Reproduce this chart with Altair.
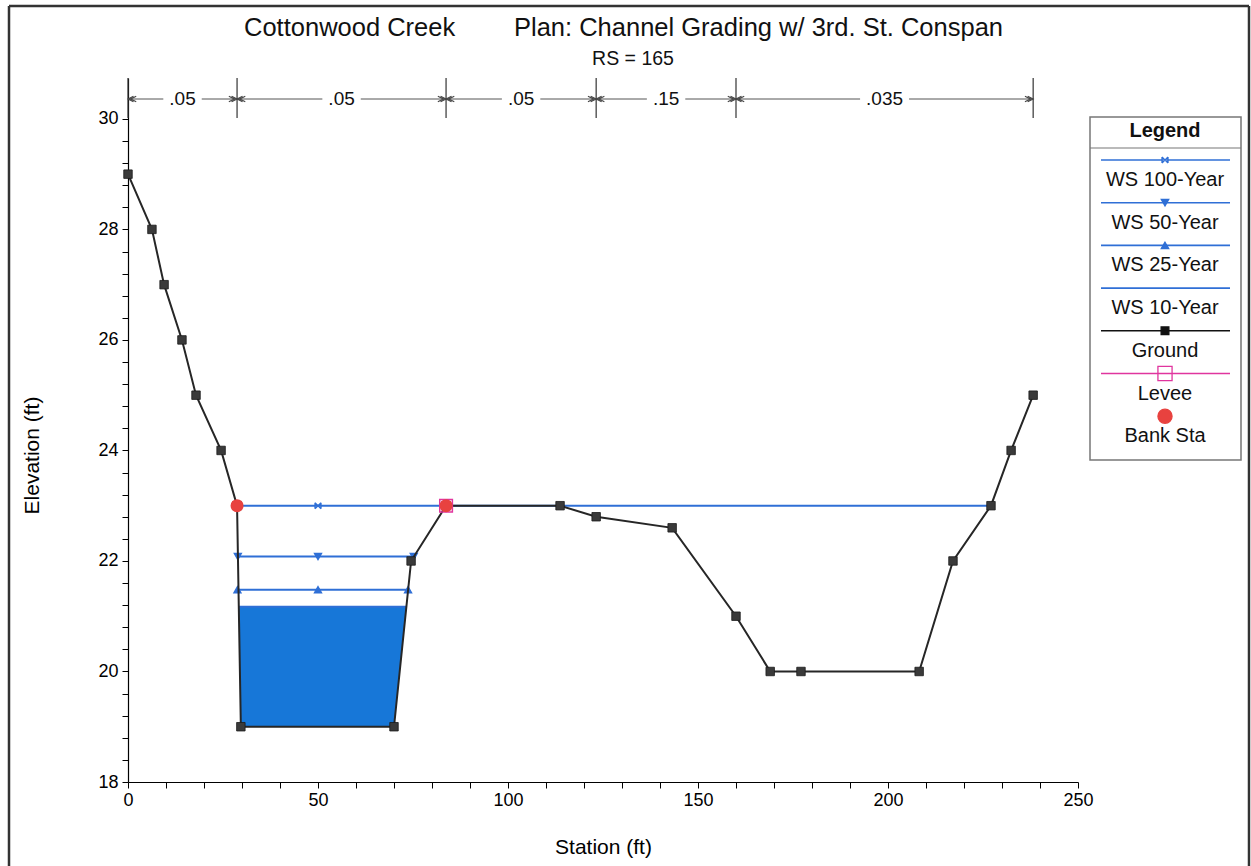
import altair as alt
import pandas as pd

# ---------------- data ----------------
ground_sta = [0.0, 6.3, 9.5, 14.2, 17.9, 24.5, 28.7, 29.7, 70.0, 74.5, 83.7,
              113.7, 123.2, 143.2, 160.0, 169.0, 177.1, 208.2, 217.1, 227.1, 232.4, 238.2]
ground_elev = [29.0, 28.0, 27.0, 26.0, 25.0, 24.0, 23.0, 19.0, 19.0, 22.0, 23.0,
               23.0, 22.8, 22.6, 21.0, 20.0, 20.0, 20.0, 22.0, 23.0, 24.0, 25.0]

bank_sta = [28.7, 83.7]
bank_elev = [23.0, 23.0]
levee_sta = [83.7]
levee_elev = [23.0]

ws_names = ["WS 100-Year", "WS 50-Year", "WS 25-Year", "WS 10-Year"]
ws_elev = [23.0, 22.08, 21.48, 21.17]
ws_left = [28.7, 28.9, 28.8, 29.2]
ws_right = [227.1, 75.2, 73.7, 73.3]
ws_mid_marker = [50.0, 50.0, 50.0, None]

# filled lowest profile (WS 10-Year) polygon, by elevation
fill_elev = [19.0, 21.17]
fill_left = [29.7, 29.2]
fill_right = [70.0, 73.3]

n_breaks = [0.0, 28.7, 83.7, 123.2, 160.0, 238.2]
n_values = [".05", ".05", ".05", ".15", ".035"]

x_ticks = list(range(0, 251, 10))
y_ticks = [round(18 + 0.4 * i, 1) for i in range(31)]

title_left = "Cottonwood Creek"
title_right = "Plan: Channel Grading w/ 3rd. St. Conspan"
subtitle = "RS = 165"
legend_title = "Legend"
legend_labels = ws_names + ["Ground", "Levee", "Bank Sta"]

# ---------------- style / layout ----------------
FONT = "Liberation Sans"
PL, PT, W, H = 128, 78, 950, 704
PR, PB = 1251 - PL - W, 866 - PT - H
WS_BLUE = "#2F6FD6"
FILL = "#1777D8"
GROUND = "#262626"
LEVEE = "#E0359E"
BANK = "#E8423F"
XPATH = "M-1,-1L1,1M-1,1L1,-1M-1,-1L-1,1M1,-1L1,1"
PX_PER_FT = W / 250.0


def rx(px):
    return px - PL


def ry(py):
    return py - PT


def one(**kw):
    return pd.DataFrame({k: [v] for k, v in kw.items()} or {"d": [0]})


xs = alt.Scale(domain=[0, 250], nice=False, zero=False)
ys = alt.Scale(domain=[18, 30.74], nice=False, zero=False)

x_axis = alt.Axis(values=x_ticks, title="Station (ft)",
                  labelExpr="datum.value % 50 === 0 ? format(datum.value, 'd') : ''",
                  labelOverlap=False, labelFlush=False, grid=False,
                  tickSize=6, labelPadding=3,
                  titleX=W / 2, titleY=65, titleBaseline="middle")
y_axis = alt.Axis(values=y_ticks, title="Elevation (ft)",
                  labelExpr="datum.value % 2 === 0 ? format(datum.value, 'd') : ''",
                  labelOverlap=False, labelFlush=False, grid=False,
                  tickSize=6, labelPadding=4,
                  titleX=-96, titleY=377, titleAngle=270, titleBaseline="middle",
                  titleAlign="center")

X = alt.X("sta:Q", scale=xs, axis=x_axis)
Y = alt.Y("elev:Q", scale=ys, axis=y_axis)

layers = []

# water fill for WS 10-Year
fill_df = pd.DataFrame({"elev": fill_elev, "sta": fill_left, "sta2": fill_right})
layers.append(alt.Chart(fill_df).mark_area(orient="horizontal", color=FILL, opacity=1)
              .encode(y=Y, x=X, x2="sta2:Q"))

# water surface lines
ws_rows = []
mk_rows = []
for name, e, l, r, m in zip(ws_names, ws_elev, ws_left, ws_right, ws_mid_marker):
    ws_rows += [{"profile": name, "sta": l, "elev": e}, {"profile": name, "sta": r, "elev": e}]
    if m is not None:
        for s in (l, m, r):
            mk_rows.append({"profile": name, "sta": s, "elev": e})
ws_df = pd.DataFrame(ws_rows)
mk_df = pd.DataFrame(mk_rows)
layers.append(alt.Chart(ws_df).mark_line(color=WS_BLUE, strokeWidth=2)
              .encode(x=X, y=Y, detail="profile:N"))
shapes = {"WS 100-Year": XPATH, "WS 50-Year": "triangle-down", "WS 25-Year": "triangle-up"}
for name, shp in shapes.items():
    d = mk_df[mk_df.profile == name]
    layers.append(alt.Chart(d).mark_point(shape=shp, filled=True, color=WS_BLUE, stroke=WS_BLUE,
                                          strokeWidth=1.3, size=50 if shp != XPATH else 36, opacity=1)
                  .encode(x=X, y=Y))

# ground
g_df = pd.DataFrame({"sta": ground_sta, "elev": ground_elev, "i": range(len(ground_sta))})
layers.append(alt.Chart(g_df).mark_line(color=GROUND, strokeWidth=2)
              .encode(x=X, y=Y, order="i:Q"))
layers.append(alt.Chart(g_df).mark_point(shape="square", filled=True, color="#3a3a3a",
                                         stroke="#1a1a1a", strokeWidth=0.8, size=72, opacity=1)
              .encode(x=X, y=Y))

# levee and bank stations
lv_df = pd.DataFrame({"sta": levee_sta, "elev": levee_elev})
layers.append(alt.Chart(lv_df).mark_point(shape="square", filled=False, color=LEVEE,
                                          strokeWidth=1.5, size=160, opacity=1)
              .encode(x=X, y=Y))
bk_df = pd.DataFrame({"sta": bank_sta, "elev": bank_elev})
layers.append(alt.Chart(bk_df).mark_point(shape="circle", filled=True, color=BANK,
                                          size=170, opacity=1)
              .encode(x=X, y=Y))

# Manning's n annotation across the top
nb_df = pd.DataFrame({"sta": n_breaks})
layers.append(alt.Chart(nb_df).mark_rule(color="#333", strokeWidth=1.2)
              .encode(x=X, y=alt.value(0), y2=alt.value(40)))
seg_rows, lab_rows = [], []
for a, b, lab in zip(n_breaks[:-1], n_breaks[1:], n_values):
    mid = (a + b) / 2
    gap_px = 6 + (0.278 + 0.556 * (len(lab) - 1)) * 19 / 2
    gap = gap_px / PX_PER_FT
    seg_rows += [{"sta": a, "sta2": mid - gap}, {"sta": mid + gap, "sta2": b}]
    lab_rows.append({"sta": mid, "lab": lab})
layers.append(alt.Chart(pd.DataFrame(seg_rows)).mark_rule(color="#555", strokeWidth=1)
              .encode(x=X, x2="sta2:Q", y=alt.value(ry(99))))
layers.append(alt.Chart(pd.DataFrame(lab_rows))
              .mark_text(font=FONT, fontSize=19, color="#111", baseline="middle", align="center")
              .encode(x=X, y=alt.value(ry(99)), text="lab:N"))
RIGHT_ARROW = "M-2,-1L0,0L-2,1M-3,-1L-1,0L-3,1"
LEFT_ARROW = "M2,-1L0,0L2,1M3,-1L1,0L3,1"
layers.append(alt.Chart(pd.DataFrame({"sta": n_breaks[:-1]}))
              .mark_point(shape=LEFT_ARROW, filled=False, color="#444", strokeWidth=1.1, size=30, opacity=1)
              .encode(x=X, y=alt.value(ry(99))))
layers.append(alt.Chart(pd.DataFrame({"sta": n_breaks[1:]}))
              .mark_point(shape=RIGHT_ARROW, filled=False, color="#444", strokeWidth=1.1, size=30, opacity=1)
              .encode(x=X, y=alt.value(ry(99))))

# titles
layers.append(alt.Chart(one(t=title_left)).mark_text(font=FONT, fontSize=25.5, align="left",
                                                     baseline="middle", color="#111")
              .encode(x=alt.value(rx(244)), y=alt.value(ry(28)), text="t:N"))
layers.append(alt.Chart(one(t=title_right)).mark_text(font=FONT, fontSize=25.5, align="left",
                                                      baseline="middle", color="#111")
              .encode(x=alt.value(rx(514)), y=alt.value(ry(28)), text="t:N"))
layers.append(alt.Chart(one(t=subtitle)).mark_text(font=FONT, fontSize=19.5, align="center",
                                                   baseline="middle", color="#111")
              .encode(x=alt.value(rx(633)), y=alt.value(ry(59)), text="t:N"))

# custom legend box
layers.append(alt.Chart(one()).mark_rect(fill="white", stroke="#777", strokeWidth=1.5)
              .encode(x=alt.value(rx(1090)), x2=alt.value(rx(1241)),
                      y=alt.value(ry(117)), y2=alt.value(ry(460))))
layers.append(alt.Chart(one()).mark_rule(color="#777", strokeWidth=1.2)
              .encode(x=alt.value(rx(1090)), x2=alt.value(rx(1241)), y=alt.value(ry(148))))
layers.append(alt.Chart(one(t=legend_title)).mark_text(font=FONT, fontSize=20, fontWeight="bold",
                                                       align="center", baseline="middle", color="#111")
              .encode(x=alt.value(rx(1165)), y=alt.value(ry(131)), text="t:N"))
leg_style = [
    (WS_BLUE, XPATH, True, WS_BLUE, 36),
    (WS_BLUE, "triangle-down", True, WS_BLUE, 55),
    (WS_BLUE, "triangle-up", True, WS_BLUE, 55),
    (WS_BLUE, None, True, None, 0),
    ("#111", "square", True, "#111", 60),
    (LEVEE, "square", False, LEVEE, 200),
    (None, "circle", True, BANK, 200),
]
for i, (lab, (lc, shp, filled, mc, sz)) in enumerate(zip(legend_labels, leg_style)):
    yl = 160 + 42.7 * i
    if lc is not None:
        layers.append(alt.Chart(one()).mark_rule(color=lc, strokeWidth=1.6)
                      .encode(x=alt.value(rx(1101)), x2=alt.value(rx(1230)), y=alt.value(ry(yl))))
    if shp is not None:
        layers.append(alt.Chart(one()).mark_point(shape=shp, filled=filled, color=mc, stroke=mc,
                                                  strokeWidth=1.3, size=sz, opacity=1)
                      .encode(x=alt.value(rx(1165)), y=alt.value(ry(yl))))
    layers.append(alt.Chart(one(t=lab)).mark_text(font=FONT, fontSize=20, align="center",
                                                  baseline="middle", color="#111")
                  .encode(x=alt.value(rx(1165)), y=alt.value(ry(yl + 20)), text="t:N"))

# outer frame of the figure
FR = "#333"
layers.append(alt.Chart(one()).mark_rule(color=FR, strokeWidth=2.5)
              .encode(x=alt.value(rx(9)), y=alt.value(ry(6)), y2=alt.value(ry(866))))
layers.append(alt.Chart(one()).mark_rule(color=FR, strokeWidth=2.5)
              .encode(x=alt.value(rx(9)), x2=alt.value(rx(1249)), y=alt.value(ry(6))))
layers.append(alt.Chart(one()).mark_rule(color=FR, strokeWidth=2.5)
              .encode(x=alt.value(rx(1249)), y=alt.value(ry(6)), y2=alt.value(ry(866))))

chart = (
    alt.layer(*layers)
    .properties(width=W, height=H, background="white",
                padding={"left": PL, "top": PT, "right": PR, "bottom": PB},
                autosize=alt.AutoSizeParams(type="none"))
    .configure_view(stroke=None)
    .configure_axis(domainColor="#000", tickColor="#000", labelColor="#000", titleColor="#000",
                    labelFont=FONT, titleFont=FONT, labelFontSize=18, titleFontSize=21,
                    titleFontWeight="normal", domainWidth=1.2, tickWidth=1)
)

chart.save("out.html", embed_options={"renderer": "svg", "actions": False})
